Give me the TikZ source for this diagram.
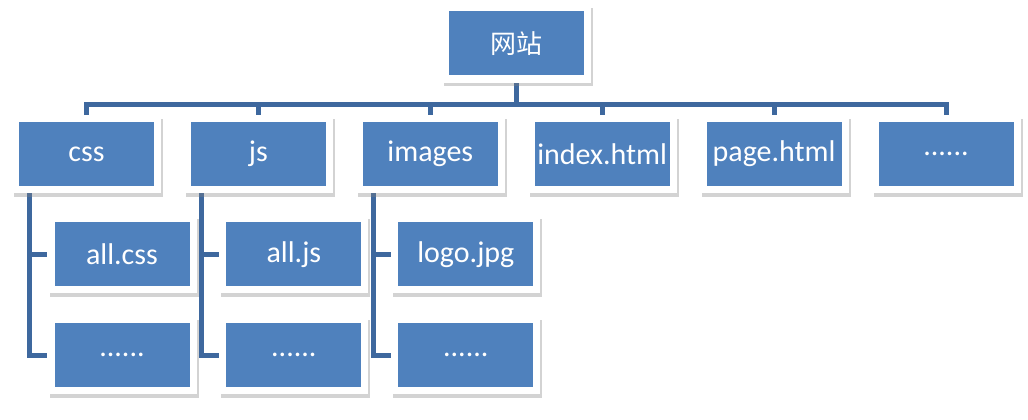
\documentclass[tikz,border=0pt]{standalone}
\usepackage{fontspec}
\setmainfont{Carlito}
\newfontfamily\cjk{Noto Sans CJK SC}
\usepackage{xcolor}
\usetikzlibrary{positioning,shadows,backgrounds}
\definecolor{boxblue}{RGB}{79,129,189}
\definecolor{lineblue}{RGB}{62,104,158}

\begin{document}
\begin{tikzpicture}[
  x=1pt, y=1pt,
  node distance=22.5pt,
  box/.style={rectangle, fill=white, minimum width=149pt, minimum height=78pt, inner sep=0pt, text=white, font=\fontsize{30}{36}\selectfont,
    drop shadow={shadow xshift=2pt, shadow yshift=-3.5pt, opacity=0.35},
    path picture={\fill[boxblue] ([shift={(7pt,7pt)}]path picture bounding box.south west) rectangle ([shift={(-7pt,-7pt)}]path picture bounding box.north east);}},
  link/.style={draw=lineblue, line width=5pt}
]
\useasboundingbox (0,0) rectangle (1028,-420);
\node[box, font=\cjk\fontsize{26}{32}\selectfont] (site) at (516,-43.5) {网站};
\node[box] (css) at (86.5,-154) {css};
\node[box, right=of css] (js) {js};
\node[box, right=of js] (images) {images};
\node[box, right=of images] (index) {index.html};
\node[box, right=of index] (page) {page.html};
\node[box, right=of page] (more) {......};
\node[box, below=22pt of css, xshift=35.5pt] (css1) {all.css};
\node[box, below=of css1] (css2) {......};
\node[box, below=22pt of js, xshift=35.5pt] (js1) {all.js};
\node[box, below=of js1] (js2) {......};
\node[box, below=22pt of images, xshift=35.5pt] (images1) {logo.jpg};
\node[box, below=of images1] (images2) {......};
\coordinate[below=22pt of site.south] (bus);
\begin{scope}[on background layer]
\draw[link] (site.south) -- (bus);
\draw[link] (css.north) |- (bus) -| (more.north);
\foreach \n in {js,images,index,page}
  \draw[link] (\n.north) -- (\n.north |- bus);
\foreach \p in {css,js,images} {
  \draw[link] ([xshift=18pt]\p.south west) |- (\p1.west);
  \draw[link] ([xshift=18pt]\p.south west) |- (\p2.west);
}
\end{scope}
\end{tikzpicture}
\end{document}
